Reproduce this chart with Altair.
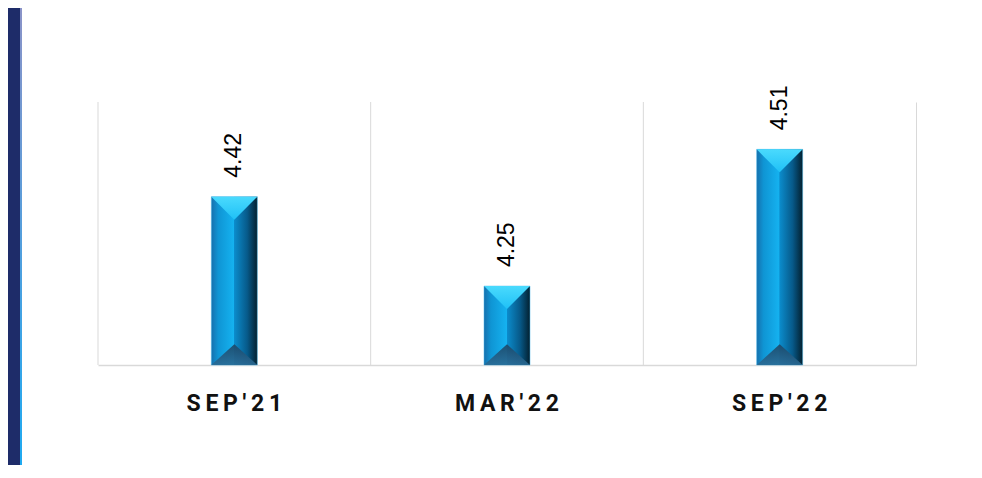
import altair as alt
import pandas as pd

categories = ["SEP'21", "MAR'22", "SEP'22"]
values = [4.42, 4.25, 4.51]
labels = ["4.42", "4.25", "4.51"]
Y_MIN, Y_MAX = 4.1, 4.6

df = pd.DataFrame({"cat": categories, "val": values, "lab": labels})

x_axis = alt.Axis(title=None, ticks=False, grid=False, labelAngle=0, bandPosition=0.5,
                  labelAlign="center",
                  labelFont="Roboto", labelFontWeight="bold", labelFontSize=23,
                  labelColor="#111111", labelPadding=27,
                  labelExpr="join(split(datum.label, ''), '\u2009')",
                  domainColor="#d9d9d9", domainWidth=1.5)
xscale = alt.Scale(paddingInner=0, paddingOuter=0)
xenc = alt.X("cat:N", sort=categories, scale=xscale, axis=x_axis)
yscale = alt.Scale(domain=[Y_MIN, Y_MAX], zero=False, nice=False)
y_axis = alt.Axis(orient="right", title=None, labels=False, ticks=False, grid=False,
                  domain=True, domainColor="#d9d9d9", domainWidth=1)
yenc = alt.Y("val:Q", scale=yscale, axis=y_axis)

base = alt.Chart(df)

grid = base.mark_rule(color="#d9d9d9", strokeWidth=1).encode(
    x=alt.X("cat:N", sort=categories, scale=xscale, bandPosition=0, axis=x_axis)
)

bar_grad = alt.Gradient(
    gradient="linear", x1=0, x2=1, y1=0, y2=0,
    stops=[
        alt.GradientStop(color="#1670ad", offset=0),
        alt.GradientStop(color="#0f95d4", offset=0.15),
        alt.GradientStop(color="#15b2f0", offset=0.49),
        alt.GradientStop(color="#0b8ccc", offset=0.5),
        alt.GradientStop(color="#075a8a", offset=0.78),
        alt.GradientStop(color="#03202f", offset=1),
    ],
)
bars = base.mark_bar(width=46, fill=bar_grad, stroke="#49b6e8", strokeWidth=0.5).encode(
    x=xenc, y=yenc, y2=alt.datum(Y_MIN)
)

top_grad = alt.Gradient(
    gradient="linear", x1=0, x2=0, y1=0, y2=1,
    stops=[alt.GradientStop(color="#4adafd", offset=0),
           alt.GradientStop(color="#1fc0f6", offset=1)],
)
top_tri = base.mark_point(shape="M-1,0L1,0L0,1Z", size=2116, filled=True, fill=top_grad,
                          opacity=1, strokeWidth=0).encode(
    x=xenc, y=yenc
)

bot_grad = alt.Gradient(
    gradient="linear", x1=0, x2=0, y1=0, y2=1,
    stops=[alt.GradientStop(color="#1d4666", offset=0),
           alt.GradientStop(color="#2a6a94", offset=1)],
)
bot_tri = base.mark_point(shape="M-1,0L1,0L0,-0.9Z", size=2116, filled=True, fill=bot_grad,
                          opacity=0.9, strokeWidth=0).encode(
    x=xenc, y=alt.datum(Y_MIN)
)

text = base.mark_text(angle=270, align="left", baseline="middle", dx=19,
                      font="Liberation Sans", fontSize=23, color="#000000").encode(
    x=xenc, y=yenc, text="lab:N"
)

deco = alt.Data(values=[{}])
strip = alt.Chart(deco).mark_rect(color="#1e2c69").encode(
    x=alt.value(-90), x2=alt.value(-78), y=alt.value(-94), y2=alt.value(400)
)
edge_grad = alt.Gradient(
    gradient="linear", x1=0, x2=0, y1=0, y2=1,
    stops=[alt.GradientStop(color="#8a93c8", offset=0),
           alt.GradientStop(color="#16acf4", offset=1)],
)
edge = alt.Chart(deco).mark_rect(fill=edge_grad).encode(
    x=alt.value(-78), x2=alt.value(-76), y=alt.value(-94), y2=alt.value(400)
)

chart = alt.layer(bars, grid, top_tri, bot_tri, text, strip, edge).properties(
    width=818, height=263,
    autosize=alt.AutoSizeParams(type="none"),
    padding={"left": 90, "top": 94, "right": 50, "bottom": 100},
    background="#ffffff",
).configure_view(strokeWidth=0)

chart.save("out.html", embed_options={"renderer": "svg", "actions": False})
